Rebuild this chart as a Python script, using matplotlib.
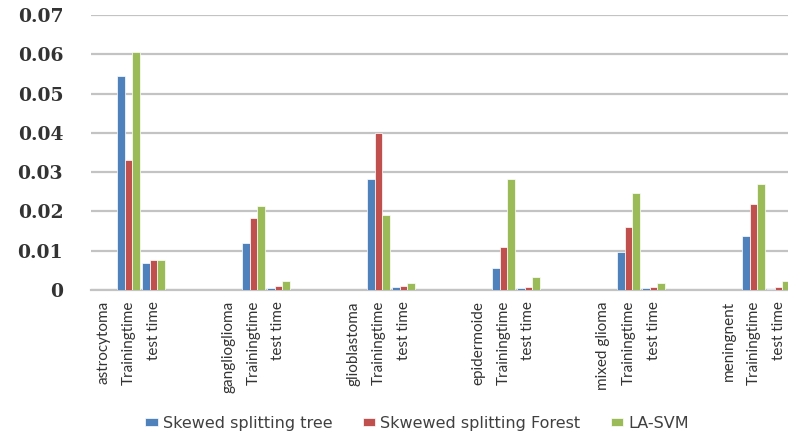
import numpy as np
import matplotlib
matplotlib.use("Agg")
import matplotlib.pyplot as plt

# tumour groups on the category axis
tumors = ["astrocytoma", "ganglioglioma", "glioblastoma",
          "epidermoide", "mixed glioma", "meningnent"]
phase_labels = ["Trainingtime", "test time"]

series_names = ["Skewed splitting tree", "Skwewed splitting Forest", "LA-SVM"]
series_colors = ["#4F81BD", "#C0504D", "#9BBB59"]

# seconds, one value per tumour
train_tree = [0.0545, 0.0120, 0.0283, 0.0055, 0.0096, 0.0138]
train_forest = [0.0330, 0.0184, 0.0400, 0.0109, 0.0160, 0.0220]
train_lasvm = [0.0605, 0.0215, 0.0190, 0.0283, 0.0246, 0.0269]

test_tree = [0.0070, 0.0004, 0.0008, 0.0004, 0.0004, 0.0003]
test_forest = [0.0076, 0.0010, 0.0010, 0.0008, 0.0008, 0.0008]
test_lasvm = [0.0076, 0.0023, 0.0017, 0.0033, 0.0018, 0.0023]

yticks = [0, 0.01, 0.02, 0.03, 0.04, 0.05, 0.06, 0.07]
ytick_labels = ["0", "0.01", "0.02", "0.03", "0.04", "0.05", "0.06", "0.07"]

train = [train_tree, train_forest, train_lasvm]
test = [test_tree, test_forest, test_lasvm]

# each tumour takes 5 slots: name, training, test, two empty
slots_per_group = 5
n_slots = slots_per_group * len(tumors)
group_base = np.arange(len(tumors)) * slots_per_group
bar_w = 0.3
offsets = [-bar_w, 0.0, bar_w]

fig = plt.figure(figsize=(7.88, 4.36), dpi=100)
# plot area runs past the right border, so the last group is cut off
ax = fig.add_axes([91 / 788, 1 - 290 / 436, 750 / 788, 275 / 436])

for k in range(3):
    ax.bar(group_base + 1 + offsets[k], train[k], width=bar_w,
           color=series_colors[k], edgecolor="white", linewidth=0.5,
           label=series_names[k], zorder=3)
    ax.bar(group_base + 2 + offsets[k], test[k], width=bar_w,
           color=series_colors[k], edgecolor="white", linewidth=0.5,
           zorder=3)

ax.set_xlim(-0.5, n_slots - 0.5)
ax.set_ylim(0, 0.07)

ax.set_yticks(yticks)
ax.set_yticklabels(ytick_labels, family="DejaVu Serif", fontweight="bold",
                   fontsize=13.5, color="#333333")
ax.yaxis.grid(True, color="#C3C3C3", linewidth=1.6, zorder=0)
ax.set_axisbelow(True)

tick_pos = []
tick_lab = []
for i, name in enumerate(tumors):
    tick_pos += [group_base[i], group_base[i] + 1, group_base[i] + 2]
    tick_lab += [name] + phase_labels
ax.set_xticks(tick_pos)
ax.set_xticklabels(tick_lab, rotation=90, family="Lato", fontsize=11,
                   color="#333333", va="top", ha="center")

ax.tick_params(axis="both", length=0)
ax.tick_params(axis="y", pad=20)
ax.tick_params(axis="x", pad=8)

for side in ["top", "right", "left"]:
    ax.spines[side].set_visible(False)
ax.spines["bottom"].set_color("#C3C3C3")
ax.spines["bottom"].set_linewidth(1.6)

fig.legend(loc="center", bbox_to_anchor=(417 / 788, 1 - 423 / 436),
           ncol=3, frameon=False, handlelength=0.8, handleheight=0.45,
           handletextpad=0.3, columnspacing=1.9,
           prop={"family": "DejaVu Sans", "size": 11.5},
           labelcolor="#404040")

fig.savefig("out.png", dpi=100)
